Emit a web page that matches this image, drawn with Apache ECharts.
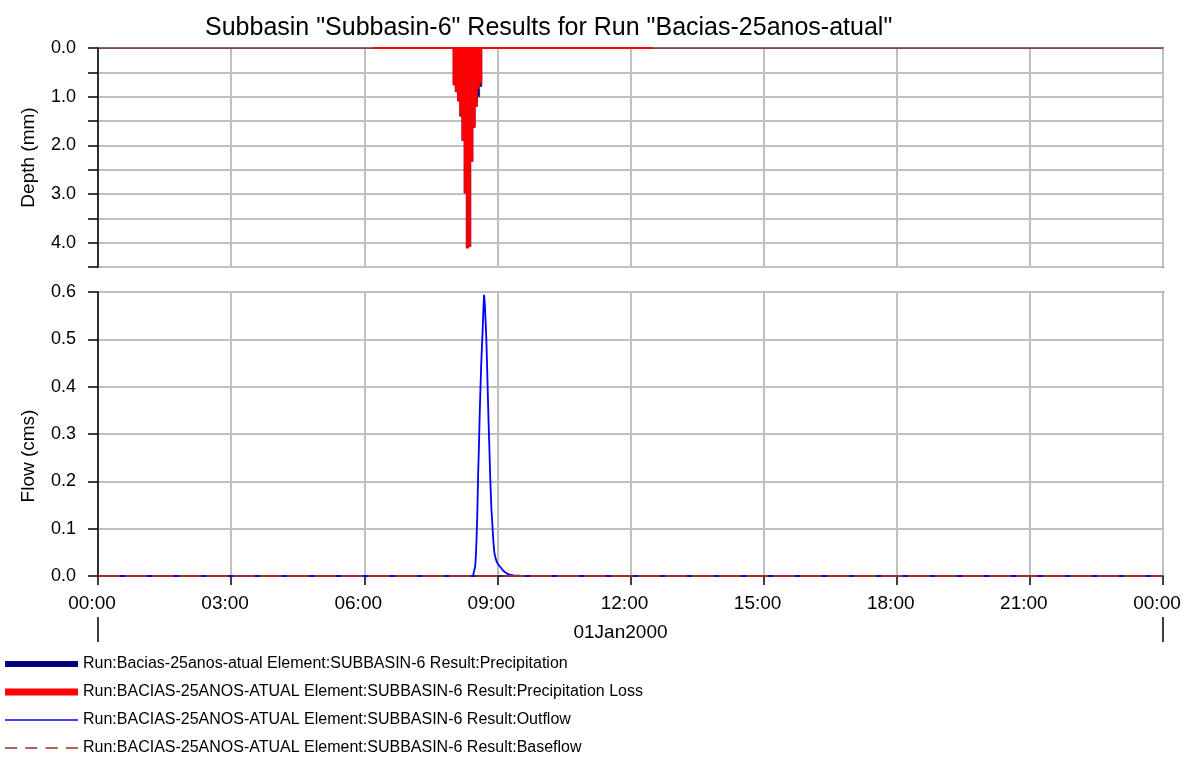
<!DOCTYPE html>
<html>
<head>
<meta charset="utf-8">
<script src="https://cdn.jsdelivr.net/npm/echarts@6/dist/echarts.min.js"></script>
<style>
  html, body { margin: 0; padding: 0; background: #ffffff; }
  #chart { width: 1183px; height: 757px; }
</style>
</head>
<body>
<div id="chart"></div>
<script>
// Subbasin-6 results: hyetograph (top) and hydrograph (bottom) for 01Jan2000

const titleText = 'Subbasin "Subbasin-6" Results for Run "Bacias-25anos-atual"';
const dayLabel = '01Jan2000';
const hourLabels = ['00:00', '03:00', '06:00', '09:00', '12:00', '15:00', '18:00', '21:00', '00:00'];

// Storm blocks (mm), 3-minute blocks starting at 08:00
const stormStart = '08:00';
const blockMinutes = 3;
const precipitation     = [0.76, 0.90, 1.09, 1.40, 1.90, 2.98, 4.11, 4.08, 2.33, 1.63, 1.20, 1.00, 0.79];
const precipitationLoss = [0.76, 0.90, 1.09, 1.40, 1.90, 2.98, 4.11, 4.08, 2.33, 1.63, 1.20, 0.83, 0.72];
// Period with a (near-zero) loss record around the storm
const lossRecord = ['06:12', '12:30'];

// Outflow (cms)
const outflowTimes = ['00:00', '08:27', '08:28', '08:30', '08:31', '08:32', '08:33', '08:34', '08:35', '08:36',
  '08:37', '08:38', '08:39', '08:40', '08:41', '08:42', '08:43', '08:44', '08:45', '08:46', '08:47', '08:48',
  '08:49', '08:50', '08:51', '08:52', '08:53', '08:54', '08:55', '08:56', '08:58', '09:00', '09:04', '09:08',
  '09:12', '09:16', '09:22', '09:30', '24:00'];
const outflow = [0, 0, 0.002, 0.02, 0.045, 0.085, 0.14, 0.215, 0.27, 0.335,
  0.39, 0.44, 0.48, 0.515, 0.56, 0.594, 0.575, 0.54, 0.505, 0.45, 0.39, 0.33,
  0.28, 0.225, 0.18, 0.14, 0.115, 0.088, 0.065, 0.048, 0.035, 0.027, 0.019, 0.011,
  0.006, 0.003, 0.0015, 0.0005, 0];

// Baseflow (cms)
const baseflowTimes = ['00:00', '24:00'];
const baseflow = [0, 0];

const names = {
  precip: 'Run:Bacias-25anos-atual Element:SUBBASIN-6 Result:Precipitation',
  loss: 'Run:BACIAS-25ANOS-ATUAL Element:SUBBASIN-6 Result:Precipitation Loss',
  outflow: 'Run:BACIAS-25ANOS-ATUAL Element:SUBBASIN-6 Result:Outflow',
  baseflow: 'Run:BACIAS-25ANOS-ATUAL Element:SUBBASIN-6 Result:Baseflow'
};

const colors = { precip: '#000080', loss: '#ff0000', outflow: '#0000ff', baseflow: '#a52a2a' };

function toHours(hhmm) {
  const [h, m] = hhmm.split(':').map(Number);
  return h + m / 60;
}

function blocks(values) {
  const t0 = toHours(stormStart);
  const dt = blockMinutes / 60;
  return values.map((v, i) => [t0 + i * dt, t0 + (i + 1) * dt, v]);
}

function pairs(times, values) {
  return times.map((t, i) => [toHours(t), values[i]]);
}

function renderBlock(params, api) {
  const p0 = api.coord([api.value(0), 0]);
  const p1 = api.coord([api.value(1), api.value(2)]);
  const color = api.visual('color');
  return {
    type: 'rect',
    shape: { x: p0[0], y: p0[1], width: p1[0] - p0[0], height: p1[1] - p0[1] },
    style: { fill: color, stroke: color, lineWidth: 0.6 }
  };
}

const FONT = 'Liberation Sans, Arial, sans-serif';
const gridColor = '#c0c0c0';

// one legend block per row so each key can have its own swatch height
const legendRow = (name, top, swatch) => ({
  left: 5, top: top, padding: 0, orient: 'vertical',
  itemWidth: 73, itemHeight: swatch.height, selectedMode: false, symbolKeepAspect: false,
  textStyle: { fontFamily: FONT, fontSize: 16, color: '#000' },
  data: [{ name: name, icon: swatch.icon, itemStyle: { color: swatch.color, borderWidth: 0 } }]
});

const dashIcon = 'path://M0,0h12v2h-12z M20,0h12v2h-12z M40,0h12v2h-12z M60,0h12v2h-12z';

const chart = echarts.init(document.getElementById('chart'), null, { renderer: 'canvas' });

chart.setOption({
  animation: false,
  backgroundColor: '#ffffff',
  title: {
    text: titleText, left: 200, top: 11,
    textStyle: { fontFamily: FONT, fontSize: 25, fontWeight: 'normal', color: '#000' }
  },
  grid: [
    { left: 98, right: 20, top: 48, height: 219, outerBoundsMode: 'none', containLabel: false,
      show: true, borderColor: '#000', borderWidth: 1.5, backgroundColor: 'transparent' },
    { left: 98, right: 20, top: 292, height: 284, outerBoundsMode: 'none', containLabel: false,
      show: true, borderColor: '#000', borderWidth: 1.5, backgroundColor: 'transparent' }
  ],
  legend: [
    legendRow(names.precip, 656, { height: 6, icon: 'rect', color: colors.precip }),
    legendRow(names.loss, 684, { height: 7, icon: 'rect', color: colors.loss }),
    legendRow(names.outflow, 712, { height: 1.6, icon: 'rect', color: colors.outflow }),
    legendRow(names.baseflow, 740, { height: 1.6, icon: dashIcon, color: colors.baseflow })
  ],
  xAxis: [
    {
      gridIndex: 0, type: 'value', min: 0, max: 24, interval: 3,
      axisLine: { show: false }, axisTick: { show: false }, axisLabel: { show: false },
      splitLine: { show: true, lineStyle: { color: gridColor, width: 2 } }
    },
    {
      gridIndex: 1, type: 'value', min: 0, max: 24, interval: 3,
      axisLine: { show: true, onZero: false, lineStyle: { color: '#000', width: 1.5 } },
      axisTick: { show: true, length: 9, lineStyle: { color: '#000', width: 1.5 } },
      axisLabel: {
        show: true, margin: 18, color: '#000', fontFamily: FONT, fontSize: 19,
        padding: [0, 12, 0, 0],
        formatter: v => hourLabels[Math.round(v / 3)]
      },
      splitLine: { show: true, lineStyle: { color: gridColor, width: 2 } }
    },
    {
      gridIndex: 1, type: 'value', position: 'bottom', offset: 41, min: 0, max: 24, interval: 24,
      axisLine: { show: true, onZero: false, lineStyle: { color: 'rgba(0,0,0,0)', width: 1 } },
      axisTick: { show: true, inside: false, length: 25, lineStyle: { color: '#000', width: 1.5 } },
      axisLabel: { show: false },
      splitLine: { show: false },
      name: dayLabel, nameLocation: 'middle', nameGap: 6,
      nameTextStyle: { fontFamily: FONT, fontSize: 19, color: '#000', padding: [0, 20, 0, 0] }
    }
  ],
  yAxis: [
    {
      gridIndex: 0, type: 'value', inverse: true, min: 0, max: 4.5, interval: 0.5,
      axisLine: { show: true, lineStyle: { color: '#000', width: 1.5 } },
      axisTick: { show: true, length: 10, lineStyle: { color: '#000', width: 1.5 } },
      axisLabel: {
        margin: 22, color: '#000', fontFamily: FONT, fontSize: 18,
        formatter: v => (Math.abs(v - Math.round(v)) < 1e-9 ? v.toFixed(1) : '')
      },
      splitLine: { show: true, lineStyle: { color: gridColor, width: 2 } },
      name: 'Depth (mm)', nameLocation: 'middle', nameGap: 60, nameRotate: 90,
      nameTextStyle: { fontFamily: FONT, fontSize: 19, color: '#000' }
    },
    {
      gridIndex: 1, type: 'value', min: 0, max: 0.6, interval: 0.1,
      axisLine: { show: true, lineStyle: { color: '#000', width: 1.5 } },
      axisTick: { show: true, length: 10, lineStyle: { color: '#000', width: 1.5 } },
      axisLabel: {
        margin: 22, color: '#000', fontFamily: FONT, fontSize: 18,
        formatter: v => v.toFixed(1)
      },
      splitLine: { show: true, lineStyle: { color: gridColor, width: 2 } },
      name: 'Flow (cms)', nameLocation: 'middle', nameGap: 60, nameRotate: 90,
      nameTextStyle: { fontFamily: FONT, fontSize: 19, color: '#000', padding: [0, 44, 0, 0] }
    }
  ],
  series: [
    {
      name: names.precip, type: 'custom', xAxisIndex: 0, yAxisIndex: 0,
      renderItem: renderBlock, encode: { x: [0, 1], y: 2 },
      itemStyle: { color: colors.precip }, data: blocks(precipitation), z: 3
    },
    {
      name: names.loss, type: 'custom', xAxisIndex: 0, yAxisIndex: 0,
      renderItem: renderBlock, encode: { x: [0, 1], y: 2 },
      itemStyle: { color: colors.loss }, data: blocks(precipitationLoss), z: 5
    },
    {
      // zero level of the loss record over the whole day
      name: names.loss, type: 'line', xAxisIndex: 0, yAxisIndex: 0,
      data: [[0, 0], [24, 0]], symbol: 'none',
      lineStyle: { color: '#6b1a3a', width: 1.5 }, itemStyle: { color: colors.loss }, z: 6
    },
    {
      name: names.loss, type: 'line', xAxisIndex: 0, yAxisIndex: 0,
      data: [[toHours(lossRecord[0]), 0], [toHours(lossRecord[1]), 0]], symbol: 'none',
      lineStyle: { color: colors.loss, width: 2.2 }, itemStyle: { color: colors.loss }, z: 7
    },
    {
      name: names.outflow, type: 'line', xAxisIndex: 1, yAxisIndex: 1,
      data: pairs(outflowTimes, outflow), symbol: 'none',
      lineStyle: { color: colors.outflow, width: 1.8 }, itemStyle: { color: colors.outflow }, z: 5
    },
    {
      name: names.baseflow, type: 'line', xAxisIndex: 1, yAxisIndex: 1,
      data: pairs(baseflowTimes, baseflow), symbol: 'none',
      lineStyle: { color: colors.baseflow, width: 1.8, type: [22, 5] }, itemStyle: { color: colors.baseflow }, z: 6
    }
  ]
});
</script>
</body>
</html>
